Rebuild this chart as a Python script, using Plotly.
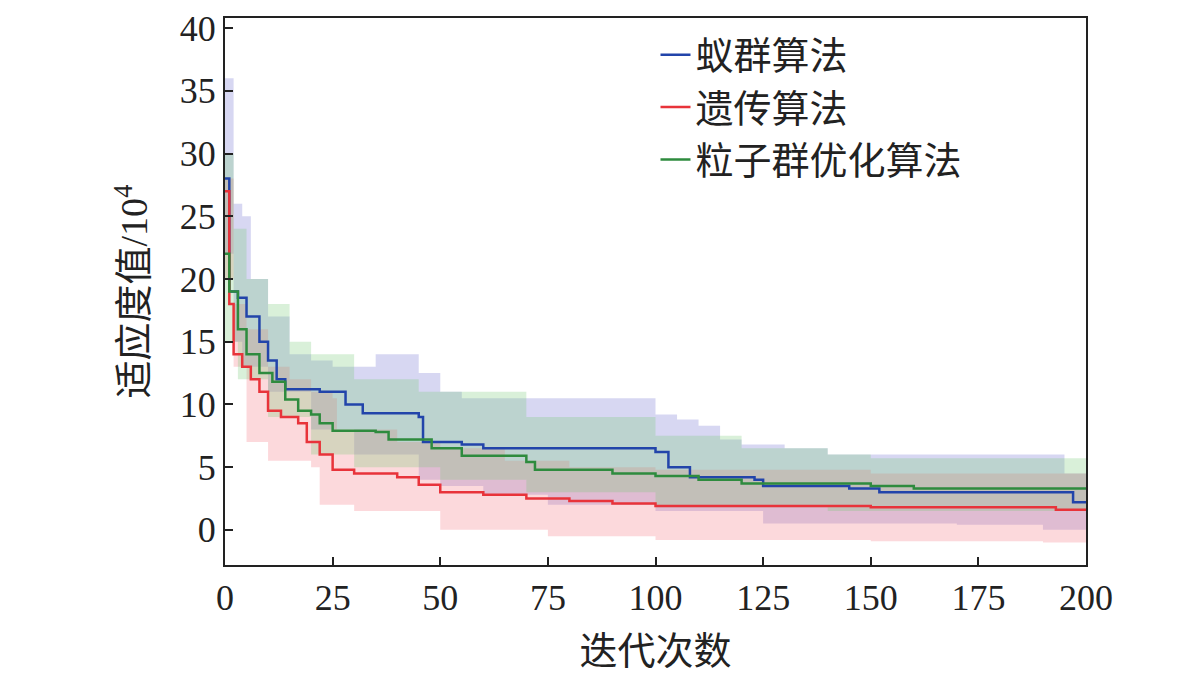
import plotly.graph_objects as go

FONT = "Liberation Serif, Noto Sans CJK SC"

# Curvas medias (iteración, valor) y bandas superior / inferior, en 10^4
datos = {
    "蚁群算法": dict(
        color="#2244aa", banda="rgba(110,110,210,0.28)",
        media=[(0, 28), (1, 19), (3, 18.5), (5, 17), (8, 15), (10, 13.5), (12, 12), (14, 11.2),
               (22, 11), (28, 10), (32, 9.3), (45, 9), (46, 7), (55, 6.8), (60, 6.5),
               (100, 6.2), (103, 5), (108, 4.2), (123, 4), (125, 3.5), (145, 3.3), (152, 3.0),
               (197, 2.2), (200, 2.2)],
        sup=[(0, 36), (2, 26), (4, 25), (6, 20), (10, 17), (15, 14), (20, 13.5), (25, 13),
             (35, 14), (45, 12.5), (50, 11), (55, 10.5), (90, 10.5), (100, 9.2), (105, 8.8),
             (110, 8.3), (115, 7.2), (120, 6.8), (130, 6.5), (140, 6), (195, 4.5), (200, 4.5)],
        inf=[(0, 22), (2, 15), (4, 13), (10, 11), (20, 8), (30, 6), (45, 4), (50, 3.5),
             (60, 2.8), (75, 2), (100, 1.5), (125, 0.5), (170, 0.4), (190, 0), (200, -0.2)],
    ),
    "遗传算法": dict(
        color="#e8333a", banda="rgba(245,120,130,0.28)",
        media=[(0, 27), (1, 18), (2, 14), (4, 13), (6, 12), (8, 11), (10, 9.5), (13, 9.0),
               (17, 8.5), (19, 7), (22, 6), (25, 4.8), (30, 4.5), (40, 4.2), (45, 3.6),
               (50, 3.0), (60, 2.8), (70, 2.5), (80, 2.3), (90, 2.1), (100, 1.9), (150, 1.8),
               (193, 1.6), (200, 1.6)],
        sup=[(0, 28), (2, 18), (5, 16), (10, 13), (15, 12), (20, 11), (25, 10.5), (26, 8),
             (40, 7), (50, 6.5), (65, 5.5), (80, 5), (100, 4.8), (150, 4.5), (200, 4.2)],
        inf=[(0, 20), (2, 13), (5, 7), (10, 5.5), (20, 5), (22, 2), (30, 1.5), (50, 0),
             (75, -0.5), (100, -0.8), (150, -0.9), (190, -1), (200, -1)],
    ),
    "粒子群优化算法": dict(
        color="#2e8b3e", banda="rgba(120,200,120,0.28)",
        media=[(0, 22), (1, 19), (3, 16), (5, 14), (8, 12.5), (11, 11.8), (14, 10.4), (17, 9.5),
               (20, 9.2), (22, 8.5), (25, 7.9), (35, 7.8), (38, 7.2), (48, 6.5), (55, 5.9),
               (70, 5.4), (72, 4.8), (90, 4.5), (100, 4.3), (110, 4.0), (120, 3.7), (150, 3.5),
               (160, 3.3), (200, 3.3)],
        sup=[(0, 30), (2, 24), (5, 20), (10, 18), (15, 15), (20, 14), (27, 14), (30, 12),
             (45, 11), (70, 9), (100, 7.5), (120, 6.5), (140, 6), (150, 5.7), (200, 5.7)],
        inf=[(0, 15), (3, 12), (10, 9), (20, 6), (25, 6), (30, 5), (50, 4), (70, 3),
             (100, 1.8), (140, 1.5), (200, 1.0)],
    ),
}

fig = go.Figure()

for nombre, d in datos.items():
    xs, ys = zip(*d["sup"])
    fig.add_trace(go.Scatter(x=xs, y=ys, mode="lines", line_shape="hv", line_width=0,
                             showlegend=False, hoverinfo="skip"))
    xs, ys = zip(*d["inf"])
    fig.add_trace(go.Scatter(x=xs, y=ys, mode="lines", line_shape="hv", line_width=0,
                             fill="tonexty", fillcolor=d["banda"],
                             showlegend=False, hoverinfo="skip"))

for nombre, d in datos.items():
    xs, ys = zip(*d["media"])
    fig.add_trace(go.Scatter(x=xs, y=ys, mode="lines", line_shape="hv", name=nombre,
                             line=dict(color=d["color"], width=2.5)))

ejes = dict(showgrid=False, zeroline=False, showline=True, linecolor="#222", linewidth=2,
            mirror=True, ticks="inside", ticklen=8, tickwidth=2, tickcolor="#222",
            automargin=False, tickfont=dict(size=36, family=FONT, color="#222"))

fig.update_xaxes(range=[0, 200], tickvals=[0, 25, 50, 75, 100, 125, 150, 175, 200],
                 title=dict(text="迭代次数", standoff=20,
                            font=dict(size=38, family=FONT, color="#222")), **ejes)
fig.update_yaxes(range=[-2.8, 40.8], tickvals=[0, 5, 10, 15, 20, 25, 30, 35, 40],
                 title=dict(text="适应度值/10<sup>4</sup>", standoff=20,
                            font=dict(size=38, family=FONT, color="#222")),
                 **ejes)

fig.update_layout(
    width=1181,
    height=691,
    plot_bgcolor="#FFFFFF",
    paper_bgcolor="#FFFFFF",
    margin=dict(l=217, r=103, t=10, b=134),
    legend=dict(x=0.5, y=0.99, xanchor="left", yanchor="top", bgcolor="rgba(0,0,0,0)",
                traceorder="normal",
                font=dict(size=38, family=FONT, color="#222"), tracegroupgap=0),
)

fig.write_html("out.html")
